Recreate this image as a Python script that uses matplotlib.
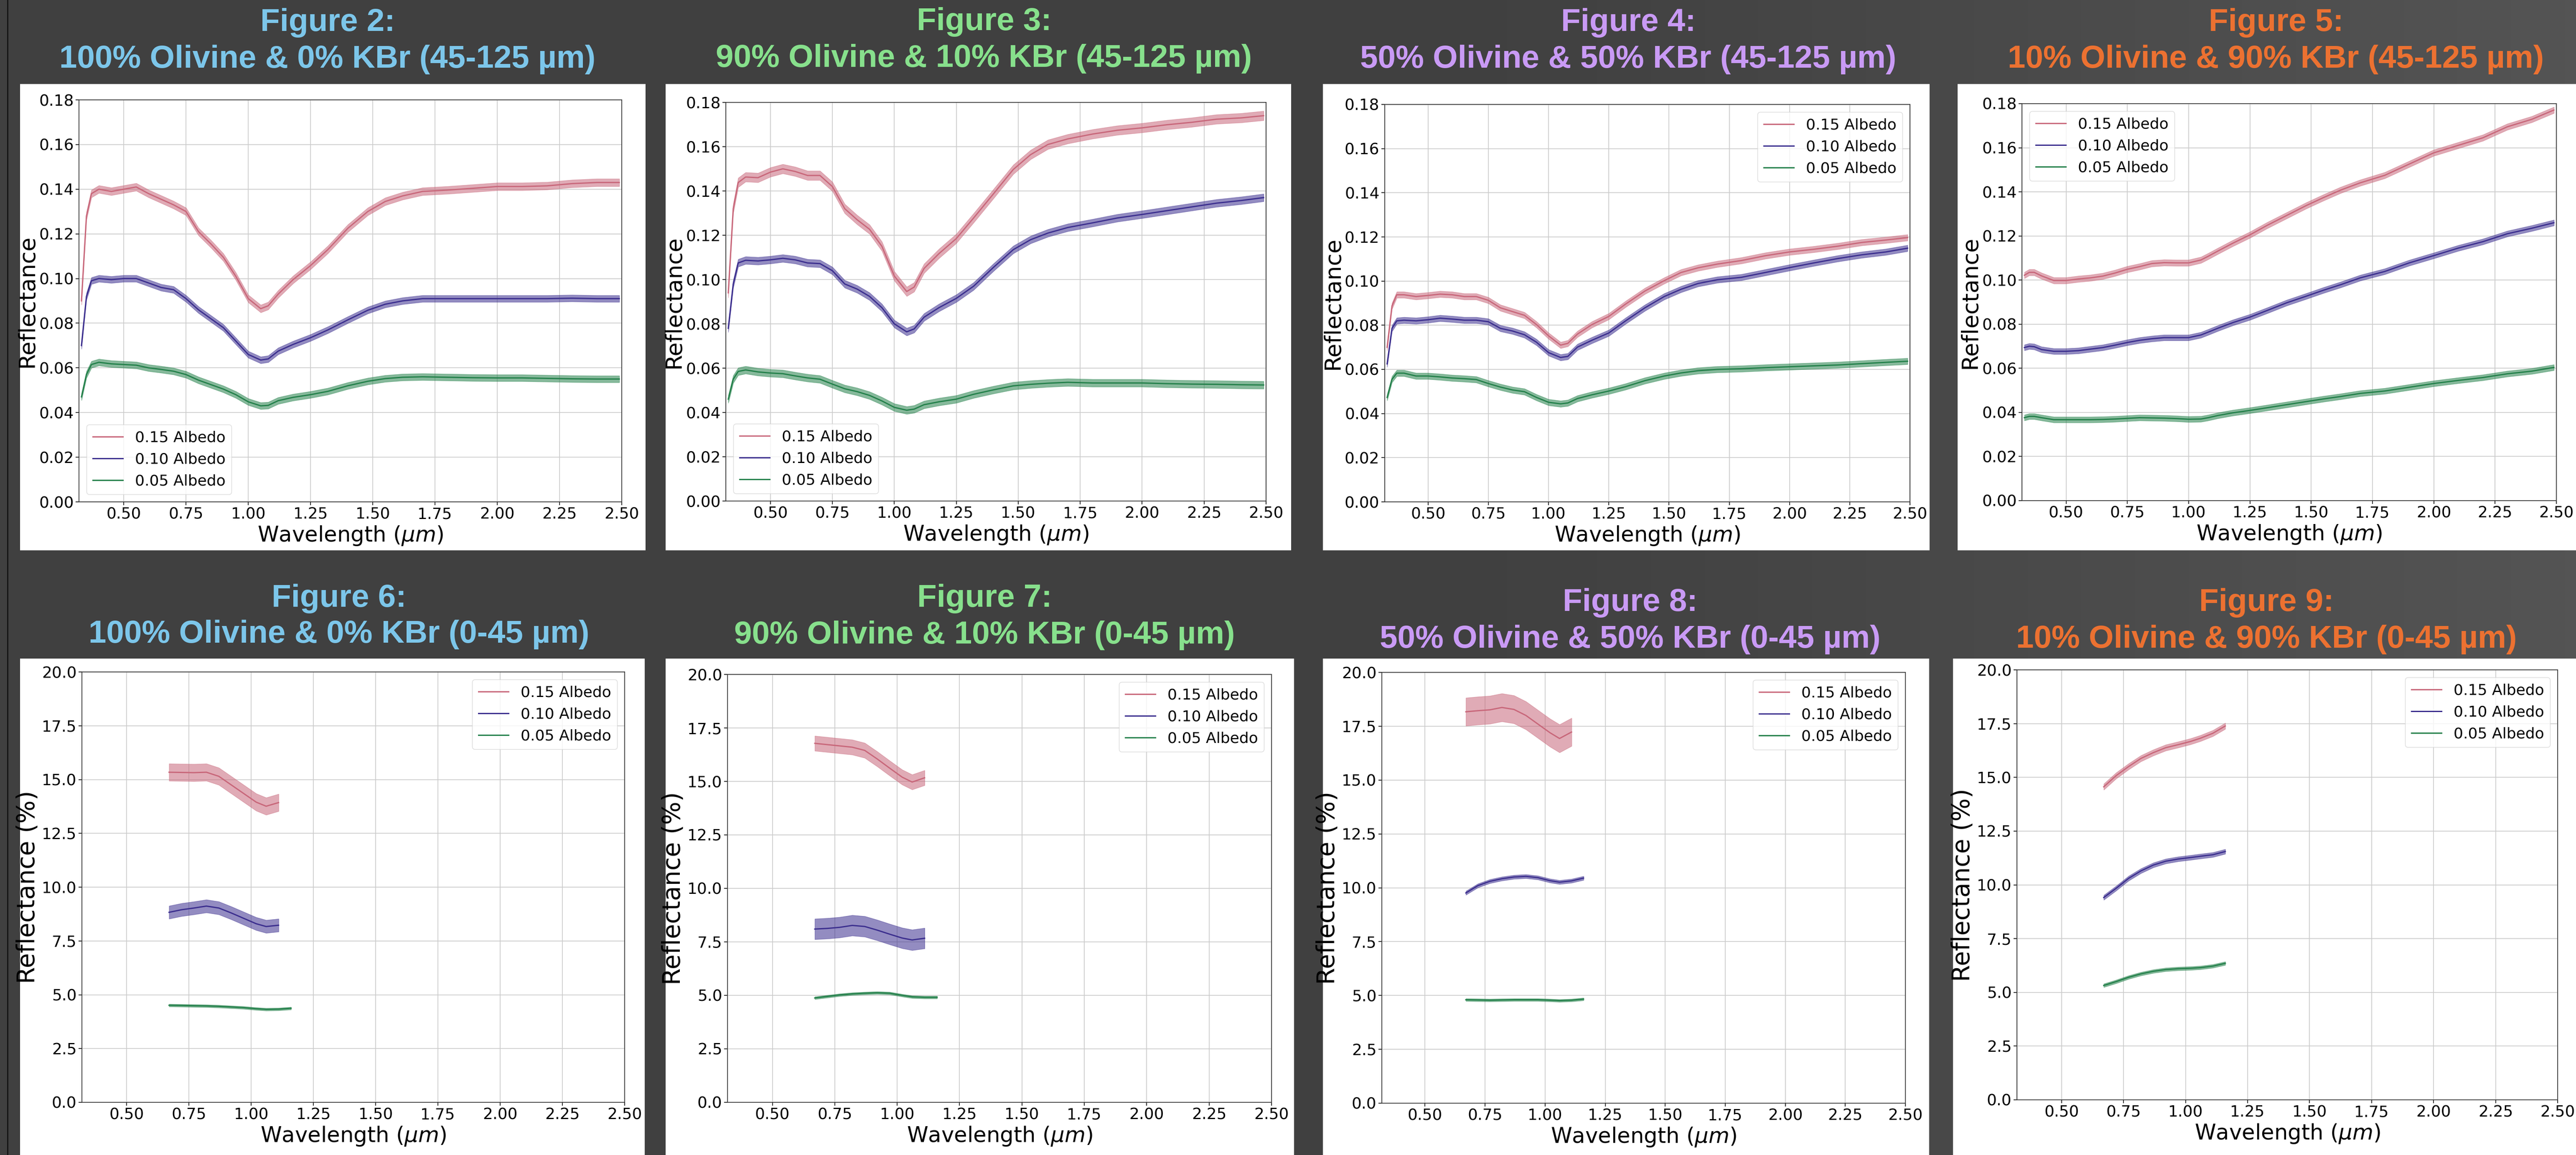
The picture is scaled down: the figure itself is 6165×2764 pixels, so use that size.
import matplotlib
matplotlib.use("Agg")
import matplotlib.pyplot as plt
import numpy as np
from matplotlib.lines import Line2D
from matplotlib.patches import Rectangle
from matplotlib.ticker import FormatStrFormatter


plt.rcParams.update(
    {
        "font.family": "DejaVu Sans",
        "figure.facecolor": "#404040",
        "savefig.facecolor": "#404040",
    }
)

FIG_W, FIG_H = 6165, 2764

SERIES_LABELS = ["0.15 Albedo", "0.10 Albedo", "0.05 Albedo"]
LINE_COLORS = ["#c8677a", "#3b2e8e", "#23804a"]

# 45-125 um spectra (reflectance, fraction)
TOP_WAVELENGTH = [0.33, 0.35, 0.37, 0.40, 0.45, 0.50, 0.55, 0.60, 0.65, 0.70, 0.75, 0.80,
                  0.85, 0.90, 0.95, 1.00, 1.05, 1.08, 1.12, 1.18, 1.25, 1.32, 1.40, 1.48,
                  1.55, 1.62, 1.70, 1.80, 1.90, 2.00, 2.10, 2.20, 2.30, 2.40, 2.49]

FIG2_A15 = [0.090, 0.128, 0.138, 0.140, 0.139, 0.140, 0.141, 0.138, 0.1355, 0.133, 0.130, 0.121,
            0.1155, 0.1095, 0.101, 0.091, 0.0865, 0.0878, 0.093, 0.0995, 0.1058, 0.113, 0.1225, 0.130,
            0.1345, 0.137, 0.139, 0.1396, 0.1404, 0.1412, 0.1412, 0.1415, 0.1425, 0.143, 0.143]
FIG2_A10 = [0.070, 0.092, 0.099, 0.100, 0.0995, 0.100, 0.100, 0.098, 0.096, 0.095, 0.091, 0.086,
            0.082, 0.078, 0.072, 0.066, 0.0635, 0.064, 0.0675, 0.0705, 0.0735, 0.077, 0.0815, 0.0858,
            0.0885, 0.090, 0.091, 0.091, 0.091, 0.091, 0.091, 0.091, 0.0912, 0.091, 0.091]
FIG2_A05 = [0.047, 0.057, 0.0615, 0.0625, 0.0618, 0.0615, 0.0612, 0.060, 0.0593, 0.0585, 0.057, 0.0545,
            0.0525, 0.0505, 0.048, 0.0448, 0.043, 0.0432, 0.0453, 0.0468, 0.048, 0.0495, 0.052, 0.054,
            0.0552, 0.0558, 0.056, 0.0558, 0.0556, 0.0555, 0.0555, 0.0553, 0.0551, 0.055, 0.055]

FIG3_A15 = [0.094, 0.132, 0.1438, 0.1463, 0.146, 0.1485, 0.150, 0.1488, 0.147, 0.147, 0.142, 0.132,
            0.127, 0.1227, 0.115, 0.1016, 0.0946, 0.0966, 0.105, 0.1117, 0.1185, 0.1278, 0.1387, 0.1497,
            0.1564, 0.161, 0.1635, 0.1657, 0.1674, 0.1685, 0.1699, 0.171, 0.1724, 0.173, 0.174]
FIG3_A10 = [0.078, 0.098, 0.1075, 0.1087, 0.1084, 0.1089, 0.1096, 0.1089, 0.1075, 0.1072, 0.104, 0.098,
            0.0957, 0.0924, 0.0873, 0.080, 0.0764, 0.0777, 0.083, 0.0873, 0.0915, 0.097, 0.1055, 0.1135,
            0.118, 0.121, 0.1235, 0.1256, 0.1278, 0.1294, 0.1311, 0.1328, 0.1345, 0.1357, 0.137]
FIG3_A05 = [0.046, 0.055, 0.0585, 0.0592, 0.0583, 0.0578, 0.0575, 0.0565, 0.0556, 0.055, 0.0528, 0.0507,
            0.0494, 0.0477, 0.0452, 0.0423, 0.041, 0.0415, 0.0435, 0.0448, 0.046, 0.0482, 0.0502, 0.052,
            0.0527, 0.0532, 0.0536, 0.0533, 0.0533, 0.0533, 0.053, 0.0528, 0.0527, 0.0525, 0.0524]

FIG4_A15 = [0.070, 0.0887, 0.0938, 0.0938, 0.093, 0.0935, 0.0941, 0.0938, 0.093, 0.093, 0.0913, 0.0879,
            0.0862, 0.0845, 0.0803, 0.0752, 0.071, 0.0718, 0.076, 0.0803, 0.084, 0.0896, 0.0955, 0.1002,
            0.1039, 0.106, 0.1077, 0.1093, 0.1115, 0.1132, 0.1144, 0.1158, 0.1175, 0.1186, 0.1197]
FIG4_A10 = [0.0625, 0.0786, 0.082, 0.0823, 0.082, 0.0825, 0.0832, 0.0828, 0.0823, 0.0823, 0.0816, 0.0786,
            0.0774, 0.0757, 0.0723, 0.0676, 0.0654, 0.0659, 0.0701, 0.0732, 0.0765, 0.082, 0.0879, 0.093,
            0.0963, 0.0989, 0.1006, 0.1017, 0.1039, 0.1061, 0.1082, 0.1102, 0.1119, 0.1132, 0.1149]
FIG4_A05 = [0.0473, 0.0555, 0.0583, 0.0583, 0.057, 0.057, 0.0566, 0.0561, 0.0558, 0.0554, 0.0536, 0.052,
            0.0507, 0.0499, 0.0473, 0.0451, 0.0444, 0.0448, 0.0468, 0.0485, 0.0502, 0.0522, 0.0549, 0.057,
            0.0584, 0.0594, 0.060, 0.0603, 0.0608, 0.0612, 0.0616, 0.062, 0.0626, 0.0632, 0.0637]

FIG5_A15 = [0.1022, 0.1035, 0.1035, 0.1019, 0.0998, 0.0998, 0.1005, 0.101, 0.1018, 0.1032, 0.1049, 0.1061,
            0.1075, 0.1079, 0.1078, 0.1078, 0.1091, 0.1108, 0.1132, 0.1167, 0.1205, 0.1248, 0.1293, 0.1338,
            0.1374, 0.1408, 0.1441, 0.1475, 0.1526, 0.1577, 0.1611, 0.1645, 0.1695, 0.1729, 0.1771]
FIG5_A10 = [0.0694, 0.070, 0.0698, 0.0685, 0.0677, 0.0677, 0.068, 0.0687, 0.0694, 0.0705, 0.0717, 0.0727,
            0.0734, 0.0739, 0.0739, 0.0739, 0.0751, 0.0764, 0.0782, 0.0807, 0.0832, 0.0862, 0.0897, 0.0927,
            0.0954, 0.0979, 0.101, 0.1039, 0.1078, 0.1111, 0.1145, 0.1174, 0.121, 0.1235, 0.126]
FIG5_A05 = [0.0376, 0.0382, 0.0382, 0.0376, 0.0367, 0.0367, 0.0367, 0.0367, 0.0368, 0.037, 0.0373, 0.0376,
            0.0375, 0.0374, 0.0372, 0.0369, 0.037, 0.0376, 0.0386, 0.0398, 0.0409, 0.0421, 0.0435, 0.0449,
            0.0461, 0.0472, 0.0486, 0.0497, 0.0514, 0.0531, 0.0545, 0.0558, 0.0575, 0.0587, 0.0604]

# 0-45 um spectra (reflectance, %); shorter series stop at 1.11 um
BOTTOM_WAVELENGTH = [0.67, 0.72, 0.77, 0.82, 0.87, 0.92, 0.97, 1.02, 1.06, 1.11, 1.16]

FIG6_A15 = [15.34, 15.33, 15.32, 15.34, 15.15, 14.75, 14.35, 13.95, 13.76, 13.93]
FIG6_A10 = [8.83, 8.95, 9.03, 9.12, 9.03, 8.80, 8.55, 8.30, 8.17, 8.23]
FIG6_A05 = [4.51, 4.50, 4.49, 4.48, 4.46, 4.43, 4.40, 4.35, 4.32, 4.33, 4.37]

FIG7_A15 = [16.78, 16.72, 16.66, 16.60, 16.45, 16.05, 15.62, 15.20, 14.97, 15.17]
FIG7_A10 = [8.10, 8.13, 8.18, 8.27, 8.22, 8.05, 7.86, 7.68, 7.59, 7.67]
FIG7_A05 = [4.88, 4.95, 5.02, 5.07, 5.10, 5.12, 5.10, 5.00, 4.93, 4.91, 4.91]

FIG8_A15 = [18.17, 18.22, 18.26, 18.37, 18.28, 18.00, 17.60, 17.20, 16.93, 17.23]
FIG8_A10 = [9.76, 10.10, 10.30, 10.42, 10.50, 10.53, 10.47, 10.33, 10.26, 10.32, 10.45]
FIG8_A05 = [4.80, 4.79, 4.78, 4.79, 4.80, 4.80, 4.80, 4.78, 4.76, 4.78, 4.83]

FIG9_A15 = [14.56, 15.08, 15.50, 15.88, 16.15, 16.38, 16.52, 16.67, 16.82, 17.05, 17.39]
FIG9_A10 = [9.41, 9.84, 10.30, 10.65, 10.92, 11.10, 11.20, 11.27, 11.33, 11.40, 11.55]
FIG9_A05 = [5.32, 5.50, 5.70, 5.86, 5.98, 6.06, 6.10, 6.12, 6.15, 6.22, 6.35]

# half-width of the shaded uncertainty band for each series
FIG2_BAND = [0.0017, 0.0015, 0.0015]
FIG3_BAND = [0.0021, 0.0017, 0.0017]
FIG4_BAND = [0.0014, 0.0014, 0.0014]
FIG5_BAND = [0.0014, 0.0013, 0.0013]
FIG6_BAND = [0.40, 0.30, 0.06]
FIG7_BAND = [0.35, 0.48, 0.06]
FIG8_BAND = [0.65, 0.09, 0.06]
FIG9_BAND = [0.14, 0.11, 0.08]

TITLE_COLORS = ["#7cc6ea", "#87e08c", "#c99af5", "#ec7131"]


def fig_rect(x0, y0, x1, y1):
    """Convert a pixel box (top-left origin) to figure fractions."""
    return [x0 / FIG_W, 1 - y1 / FIG_H, (x1 - x0) / FIG_W, (y1 - y0) / FIG_H]


def draw_background(fig):
    bg = fig.add_axes([0, 0, 1, 1], zorder=-5)
    bg.set_axis_off()
    cols = np.linspace(0, 1, 400)
    shade = np.interp(cols, [0, 0.6, 1.0], [0.251, 0.255, 0.33])
    img = np.repeat(np.repeat(shade[None, :, None], 3, axis=2), 2, axis=0)
    bg.imshow(img, aspect="auto", extent=[0, 1, 0, 1], interpolation="bilinear")
    bg.set_xlim(0, 1)
    bg.set_ylim(0, 1)
    fig.lines.append(Line2D([18 / FIG_W] * 2, [0, 1], transform=fig.transFigure, color="#121212", lw=2, zorder=-4))


def draw_panel(fig, panel):
    card = fig_rect(*panel["card"])
    fig.patches.append(
        Rectangle((card[0], card[1]), card[2], card[3], transform=fig.transFigure,
                  facecolor="white", edgecolor="none", zorder=-3)
    )
    cx, y1, y2 = panel["title_xy"]
    for text, y in [(f"Figure {panel['number']}:", y1), (panel["subtitle"], y2)]:
        fig.text(cx / FIG_W, 1 - y / FIG_H, text, ha="center", va="center", fontsize=55,
                 fontweight="bold", family="Liberation Sans", color=panel["color"])

    ax = fig.add_axes(fig_rect(*panel["axes"]))
    ax.set_facecolor("white")
    wl = panel["wavelength"]
    for values, band, label, color in zip(panel["series"], panel["band"], SERIES_LABELS, LINE_COLORS):
        x = np.array(wl[: len(values)])
        y = np.array(values)
        ax.fill_between(x, y - band, y + band, color=color, alpha=0.55, lw=0.8)
        ax.plot(x, y, color=color, lw=2.2, label=label)

    ax.set_xlim(0.32, 2.5)
    ax.set_xticks(np.arange(0.5, 2.51, 0.25))
    ax.xaxis.set_major_formatter(FormatStrFormatter("%.2f"))
    if panel["percent"]:
        ax.set_ylim(0, 20)
        ax.set_yticks(np.arange(0, 20.1, 2.5))
        ax.yaxis.set_major_formatter(FormatStrFormatter("%.1f"))
        ax.set_ylabel("Reflectance (%)", fontsize=42, labelpad=4)
    else:
        ax.set_ylabel("Reflectance", fontsize=39, labelpad=2)
        ax.set_ylim(0, 0.18)
        ax.set_yticks(np.arange(0, 0.181, 0.02))
        ax.yaxis.set_major_formatter(FormatStrFormatter("%.2f"))
    ax.set_xlabel(r"Wavelength ($\mu m$)", fontsize=37, labelpad=4)
    ax.tick_params(labelsize=27, length=6, width=1.2, pad=3)
    ax.grid(True, color="#cccccc", lw=1.3)
    ax.set_axisbelow(True)
    for spine in ax.spines.values():
        spine.set_color("#333333")
        spine.set_linewidth(1.3)
    ax.legend(loc=panel["legend"], fontsize=26, framealpha=0.8, edgecolor="#d0d0d0")
    return ax


def build_panels():
    top_titles = [(784, 55, 143), (2355, 52, 140), (3897, 55, 143), (5447, 55, 143)]
    bottom_titles = [(811, 1432, 1519), (2356, 1433, 1521), (3901, 1442, 1530), (5424, 1442, 1530)]
    top_cards = [(48, 201, 1545, 1317), (1593, 201, 3090, 1317), (3166, 201, 4618, 1317), (4685, 201, 6165, 1317)]
    top_axes = [(189, 239, 1488, 1201), (1737, 245, 3030, 1199), (3314, 250, 4571, 1201), (4839, 248, 6118, 1198)]
    bottom_cards = [(48, 1576, 1543, 2764), (1593, 1576, 3097, 2764), (3166, 1576, 4617, 2764), (4674, 1576, 6165, 2764)]
    bottom_axes = [(196, 1608, 1495, 2638), (1741, 1614, 3043, 2638), (3307, 1609, 4560, 2640), (4827, 1603, 6121, 2632)]

    mixes = ["100% Olivine & 0% KBr", "90% Olivine & 10% KBr", "50% Olivine & 50% KBr", "10% Olivine & 90% KBr"]
    top_series = [
        (FIG2_A15, FIG2_A10, FIG2_A05, FIG2_BAND, "lower left"),
        (FIG3_A15, FIG3_A10, FIG3_A05, FIG3_BAND, "lower left"),
        (FIG4_A15, FIG4_A10, FIG4_A05, FIG4_BAND, "upper right"),
        (FIG5_A15, FIG5_A10, FIG5_A05, FIG5_BAND, "upper left"),
    ]
    bottom_series = [
        (FIG6_A15, FIG6_A10, FIG6_A05, FIG6_BAND, "upper right"),
        (FIG7_A15, FIG7_A10, FIG7_A05, FIG7_BAND, "upper right"),
        (FIG8_A15, FIG8_A10, FIG8_A05, FIG8_BAND, "upper right"),
        (FIG9_A15, FIG9_A10, FIG9_A05, FIG9_BAND, "upper right"),
    ]

    panels = []
    for i in range(4):
        a15, a10, a05, band, loc = top_series[i]
        panels.append(dict(number=i + 2, subtitle=f"{mixes[i]} (45-125 µm)", color=TITLE_COLORS[i],
                           title_xy=top_titles[i], card=top_cards[i], axes=top_axes[i],
                           wavelength=TOP_WAVELENGTH, series=[a15, a10, a05], band=band,
                           legend=loc, percent=False))
    for i in range(4):
        a15, a10, a05, band, loc = bottom_series[i]
        panels.append(dict(number=i + 6, subtitle=f"{mixes[i]} (0-45 µm)", color=TITLE_COLORS[i],
                           title_xy=bottom_titles[i], card=bottom_cards[i], axes=bottom_axes[i],
                           wavelength=BOTTOM_WAVELENGTH, series=[a15, a10, a05], band=band,
                           legend=loc, percent=True))
    return panels


def main():
    fig = plt.figure(figsize=(FIG_W / 100, FIG_H / 100), dpi=100)
    draw_background(fig)
    for panel in build_panels():
        draw_panel(fig, panel)
    fig.savefig("out.png", dpi=100)
    plt.close(fig)


if __name__ == "__main__":
    main()
